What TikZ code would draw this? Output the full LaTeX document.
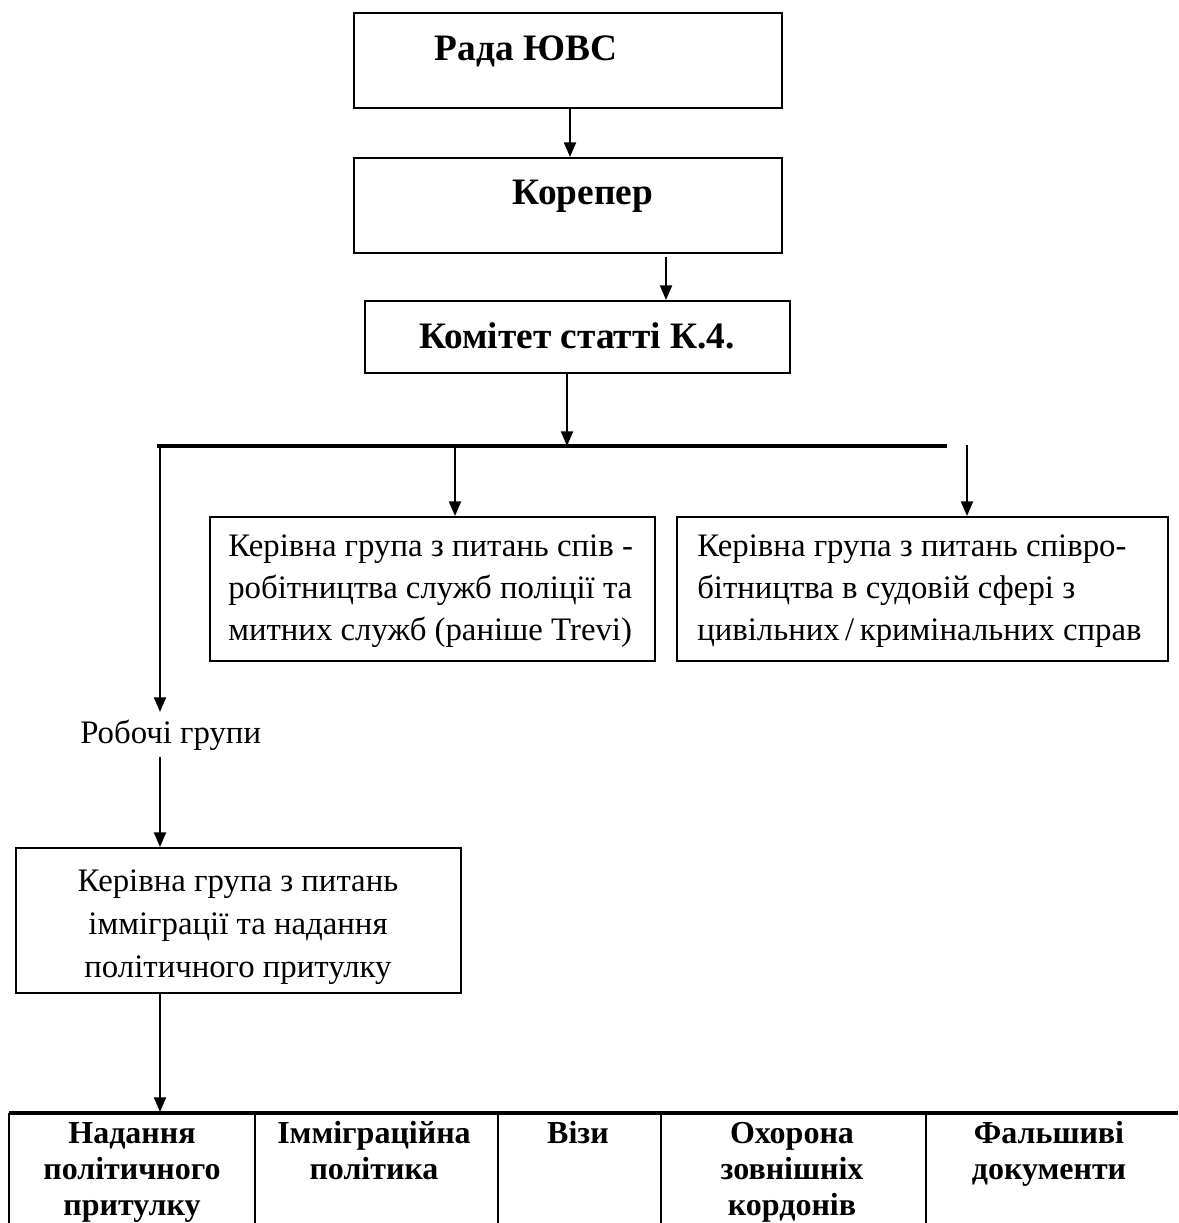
\documentclass[tikz,border=0pt]{standalone}
\usepackage{fontspec}
\setmainfont{Liberation Serif}
\usetikzlibrary{arrows.meta,fit}
\begin{document}
\begin{tikzpicture}[x=0.75pt,y=-0.75pt,
  box/.style={draw,line width=1.5pt,inner sep=0pt},
  arr/.style={line width=1.5pt,-{Triangle[length=11pt,width=9pt]}},
  ttl/.style={font=\fontsize{28}{34}\selectfont\bfseries,inner sep=0pt,anchor=base},
  txt/.style={font=\fontsize{24.6}{31.5}\selectfont,inner sep=0pt},
  tbl/.style={font=\fontsize{24}{27}\selectfont\bfseries,inner sep=0pt,anchor=base},
  bus/.style={line width=2.6pt},
  grid/.style={line width=1.5pt},
]
\useasboundingbox (0,0) rectangle (1178,1223);

% boxes
\node[box,fit={(354,13) (782,108)}] (rada) {};
\node[box,fit={(354,158) (782,253)}] (korep) {};
\node[box,fit={(365,301) (790,373)}] (kom) {};
\node[box,fit={(210,517) (655,661)}] (mid1) {};
\node[box,fit={(677,517) (1168,661)}] (mid2) {};
\node[box,fit={(16,848) (461,993)}] (imm) {};

% titles
\node[ttl] (radat) at (526,61) {Рада ЮВС};
\node[ttl] (korept) at (583,205) {Корепер};
\node[ttl] (komt) at (577,348) {Комітет статті К.4.};

% middle boxes text
\node[txt,anchor=base west] (m1a) at (228,556) {Керівна група з питань спів -};
\node[txt,anchor=base west] (m1b) at (228,598) {робітництва служб поліції та};
\node[txt,anchor=base west] (m1c) at (228,640) {митних служб (раніше Trevi)};
\node[txt,anchor=base west] (m2a) at (697,556) {Керівна група з питань співро-};
\node[txt,anchor=base west] (m2b) at (697,598) {бітництва в судовій сфері з};
\node[txt,anchor=base west] (m2c) at (697,640) {цивільних\,/\,кримінальних справ};

% working groups
\node[txt,anchor=base west] (rob) at (80,743) {Робочі групи};

\node[txt,anchor=base] (i1) at (238,891) {Керівна група з питань};
\node[txt,anchor=base] (i2) at (238,934) {імміграції та надання};
\node[txt,anchor=base] (i3) at (238,977) {політичного притулку};

% coordinates
\coordinate (busL) at (157,446);
\coordinate (busR) at (947,446);
\coordinate (xk) at (666,257);
\coordinate (xc) at (567,0);
\coordinate (xm) at (455,0);
\coordinate (rtop) at (967,445);
\coordinate (xl) at (160,0);
\coordinate (robtop) at (160,712);
\coordinate (robbot) at (160,757);
\coordinate (tblL) at (9,1113);
\coordinate (tblR) at (1178,1113);
\coordinate (tblA) at (160,1112);

% connectors
\draw[arr] (rada.south -| 570,0) -- (korep.north -| 570,0);
\draw[arr] (xk) -- (kom.north -| xk);
\draw[arr] (kom.south -| xc) -- (busL -| xc);
\draw[bus] (busL) -- (busR);
\draw[arr] (busL -| xm) -- (mid1.north -| xm);
\draw[arr] (rtop) -- (mid2.north -| rtop);
\draw[arr] (busL -| xl) -- (robtop);
\draw[arr] (robbot) -- (imm.north -| xl);
\draw[arr] (imm.south -| xl) -- (tblA);

% table
\draw[bus] (tblL) -- (tblR);
\foreach \x in {9,255,498,661,926} \draw[grid] (\x,1113) -- (\x,1223);

\node[tbl] (c1a) at (132,1143) {Надання};
\node[tbl] (c1b) at (132,1179) {політичного};
\node[tbl] (c1c) at (132,1215) {притулку};
\node[tbl] (c2a) at (374,1143) {Імміграційна};
\node[tbl] (c2b) at (374,1179) {політика};
\node[tbl] (c3a) at (578,1143) {Візи};
\node[tbl] (c4a) at (792,1143) {Охорона};
\node[tbl] (c4b) at (792,1179) {зовнішніх};
\node[tbl] (c4c) at (792,1215) {кордонів};
\node[tbl] (c5a) at (1049,1143) {Фальшиві};
\node[tbl] (c5b) at (1049,1179) {документи};
\end{tikzpicture}
\end{document}
